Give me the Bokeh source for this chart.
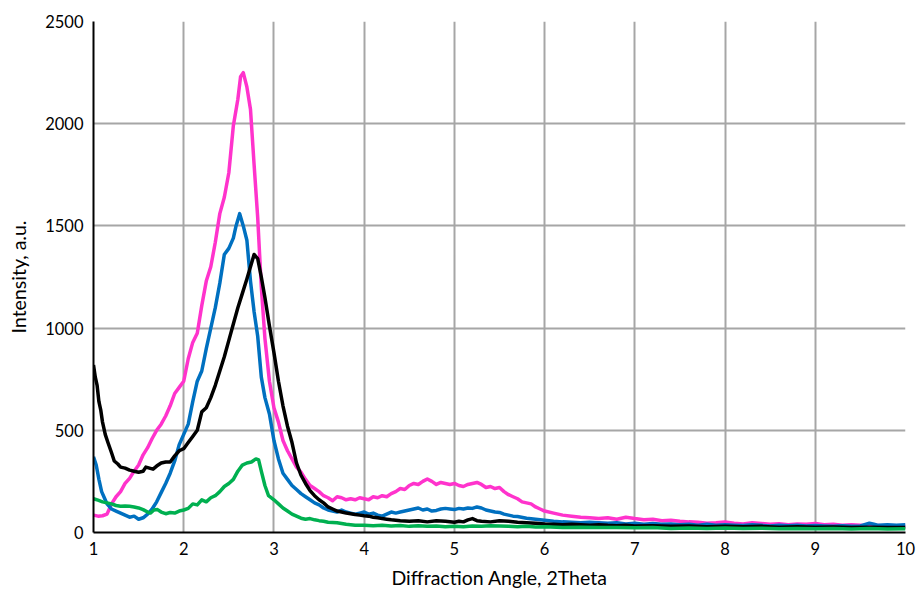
from bokeh.plotting import figure
from bokeh.embed import file_html
from bokeh.resources import INLINE
from bokeh.models import Range1d, FixedTicker

# ---------------- data ----------------
pink_x = [1.00,1.05,1.10,1.15,1.20,1.25,1.30,1.35,1.40,1.45,1.50,1.55,1.60,1.65,1.70,1.75,1.80,1.85,1.90,1.95,
          2.00,2.05,2.10,2.15,2.20,2.25,2.30,2.35,2.40,2.45,2.50,2.55,2.60,2.63,2.66,2.70,2.74,2.78,2.82,2.86,
          2.90,2.95,3.00,3.05,3.10,3.15,3.20,3.25,3.30,3.35,3.40,3.45,3.50,3.55,3.60,3.65,3.70,3.75,3.80,3.85,
          3.90,3.95,4.00,4.05,4.10,4.15,4.20,4.25,4.30,4.35,4.40,4.45,4.50,4.55,4.60,4.65,4.70,4.75,4.80,4.85,
          4.90,4.95,5.00,5.05,5.10,5.15,5.20,5.25,5.30,5.35,5.40,5.45,5.50,5.55,5.60,5.65,5.70,5.75,5.80,5.85,
          5.90,5.95,6.00,6.10,6.20,6.30,6.40,6.50,6.60,6.70,6.80,6.90,7.00,7.10,7.20,7.30,7.40,7.50,7.60,7.70,
          7.80,7.90,8.00,8.10,8.20,8.30,8.40,8.50,8.60,8.70,8.80,8.90,9.00,9.10,9.20,9.30,9.40,9.50,9.60,9.70,
          9.80,9.90,10.00]
pink_y = [85,80,82,90,140,175,200,240,265,300,330,380,415,460,500,530,570,620,680,710,
          740,850,930,975,1110,1230,1300,1420,1560,1640,1760,1990,2120,2230,2250,2180,2070,1800,1540,1200,
          950,740,610,540,450,400,360,320,295,260,230,215,200,180,170,155,175,170,160,165,
          160,170,165,160,175,170,180,175,190,200,215,210,230,240,235,250,262,250,235,245,
          240,235,240,230,225,235,240,245,235,220,225,215,220,200,185,175,165,150,145,140,
          125,115,105,95,85,80,75,72,68,72,65,75,68,62,65,58,60,55,52,50,
          45,48,52,45,42,48,44,40,43,38,42,40,44,38,40,36,38,35,32,34,
          30,28,30]

blue_x = [1.00,1.03,1.06,1.09,1.12,1.15,1.20,1.25,1.30,1.35,1.40,1.45,1.50,1.55,1.60,1.65,1.70,1.75,1.80,1.85,
          1.90,1.95,2.00,2.05,2.10,2.15,2.20,2.25,2.30,2.35,2.40,2.45,2.50,2.55,2.58,2.62,2.66,2.70,2.74,2.78,
          2.82,2.86,2.90,2.95,3.00,3.05,3.10,3.15,3.20,3.25,3.30,3.35,3.40,3.45,3.50,3.55,3.60,3.65,3.70,3.75,
          3.80,3.85,3.90,3.95,4.00,4.05,4.10,4.15,4.20,4.25,4.30,4.35,4.40,4.45,4.50,4.55,4.60,4.65,4.70,4.75,
          4.80,4.85,4.90,4.95,5.00,5.05,5.10,5.15,5.20,5.25,5.30,5.35,5.40,5.45,5.50,5.55,5.60,5.65,5.70,5.80,
          5.90,6.00,6.10,6.20,6.30,6.40,6.50,6.60,6.70,6.80,6.90,7.00,7.10,7.20,7.30,7.40,7.50,7.60,7.70,7.80,
          7.90,8.00,8.10,8.20,8.30,8.40,8.50,8.60,8.70,8.80,8.90,9.00,9.10,9.20,9.30,9.40,9.50,9.60,9.65,9.70,
          9.80,9.90,10.00]
blue_y = [370,330,260,200,170,140,115,105,95,85,75,80,65,72,90,115,150,195,240,290,
          350,430,480,530,640,740,790,900,1000,1100,1220,1360,1390,1440,1500,1560,1500,1430,1230,1080,
          960,760,660,580,450,360,290,260,230,210,190,175,160,145,135,120,110,105,100,110,
          100,95,90,95,100,90,95,85,80,90,100,95,100,105,110,115,120,110,115,105,
          108,115,118,115,112,118,115,120,118,125,120,110,105,100,98,90,85,80,78,70,
          65,60,55,52,50,48,50,48,45,48,42,45,40,44,40,42,38,40,36,40,
          35,38,36,34,38,35,32,36,33,35,32,34,32,30,33,30,32,45,40,35,
          38,35,38]

black_x = [1.00,1.02,1.04,1.06,1.08,1.10,1.13,1.16,1.20,1.23,1.27,1.30,1.35,1.40,1.45,1.50,1.55,1.58,1.62,1.66,
           1.70,1.75,1.80,1.85,1.90,1.95,2.00,2.05,2.10,2.15,2.20,2.25,2.30,2.35,2.40,2.45,2.50,2.55,2.60,2.65,
           2.70,2.74,2.78,2.82,2.86,2.90,2.95,3.00,3.05,3.10,3.15,3.20,3.25,3.30,3.35,3.40,3.45,3.50,3.55,3.60,
           3.65,3.70,3.75,3.80,3.85,3.90,3.95,4.00,4.05,4.10,4.15,4.20,4.25,4.30,4.35,4.40,4.50,4.60,4.70,4.80,
           4.90,5.00,5.05,5.10,5.15,5.20,5.25,5.30,5.40,5.50,5.60,5.70,5.80,5.90,6.00,6.10,6.20,6.30,6.40,6.50,
           6.60,6.70,6.80,6.90,7.00,7.20,7.40,7.60,7.80,8.00,8.20,8.40,8.60,8.80,9.00,9.20,9.40,9.60,9.80,10.00]
black_y = [820,760,720,640,600,540,480,440,390,350,335,320,315,305,300,295,300,320,315,310,
           325,340,345,345,375,400,410,440,470,500,590,610,660,720,790,860,940,1020,1100,1170,
           1240,1300,1360,1340,1250,1150,1010,880,740,620,520,440,340,280,240,205,180,160,145,125,
           115,105,100,95,92,88,85,82,80,75,72,68,65,62,60,58,55,58,52,58,
           55,50,55,52,62,68,58,55,52,58,55,50,48,45,42,40,38,40,38,36,
           38,35,33,35,32,33,30,32,28,30,28,30,26,28,26,27,25,26,24,25]

green_x = [1.00,1.05,1.10,1.15,1.20,1.25,1.30,1.35,1.40,1.45,1.50,1.55,1.60,1.63,1.67,1.71,1.75,1.80,1.85,1.90,
           1.95,2.00,2.05,2.10,2.15,2.20,2.25,2.30,2.35,2.40,2.45,2.50,2.55,2.60,2.65,2.70,2.75,2.80,2.83,2.86,
           2.90,2.94,3.00,3.05,3.10,3.15,3.20,3.25,3.30,3.35,3.40,3.45,3.50,3.55,3.60,3.70,3.80,3.90,4.00,4.10,
           4.20,4.30,4.40,4.50,4.60,4.70,4.80,4.90,5.00,5.10,5.20,5.30,5.40,5.50,5.60,5.70,5.80,5.90,6.00,6.20,
           6.40,6.60,6.80,7.00,7.20,7.40,7.60,7.80,8.00,8.20,8.40,8.60,8.80,9.00,9.20,9.40,9.60,9.80,10.00]
green_y = [165,158,150,145,140,132,128,130,128,125,120,112,100,95,110,112,100,92,98,95,
           105,110,118,140,135,160,150,170,180,200,225,240,260,300,330,340,345,360,355,300,
           230,180,160,140,120,105,90,80,70,65,68,62,58,55,50,48,40,36,35,33,
           35,32,34,30,33,30,32,28,30,28,32,30,33,32,30,28,30,27,28,25,
           26,24,25,23,24,20,22,20,22,19,21,18,20,18,20,17,19,17,18]

x_ticks = [1, 2, 3, 4, 5, 6, 7, 8, 9, 10]
y_ticks = [0, 500, 1000, 1500, 2000, 2500]

FONT = "Lato"

p = figure(width=917, height=593, output_backend="svg", toolbar_location=None,
           x_range=Range1d(1, 10), y_range=Range1d(0, 2500),
           min_border_left=93, min_border_right=12, min_border_top=21, min_border_bottom=61)
p.outline_line_color = None
p.background_fill_color = "white"
p.border_fill_color = "white"

for xs, ys, c in [(pink_x, pink_y, "#FF33CC"), (blue_x, blue_y, "#0070C0"),
                  (black_x, black_y, "#000000"), (green_x, green_y, "#00B050")]:
    p.line(xs, ys, line_color=c, line_width=3.5, line_join="round")

for ax in (p.xaxis[0], p.yaxis[0]):
    ax.axis_line_color = "black"
    ax.axis_line_width = 2
    ax.major_tick_line_color = None
    ax.minor_tick_line_color = None
    ax.major_tick_out = 0
    ax.major_tick_in = 0
    ax.minor_tick_out = 0
    ax.minor_tick_in = 0
    ax.major_label_text_font = FONT
    ax.major_label_text_font_size = "16.5px"
    ax.major_label_text_color = "#000000"
    ax.axis_label_text_font = FONT
    ax.axis_label_text_font_size = "19.5px"
    ax.axis_label_text_font_style = "normal"
    ax.axis_label_text_color = "#000000"

p.xaxis[0].ticker = FixedTicker(ticks=x_ticks)
p.yaxis[0].ticker = FixedTicker(ticks=y_ticks)
p.xaxis[0].axis_label = "Diffraction Angle, 2Theta"
p.yaxis[0].axis_label = "Intensity, a.u."
p.xaxis[0].major_label_standoff = 9
p.yaxis[0].major_label_standoff = 10
p.xaxis[0].axis_label_standoff = 8
p.yaxis[0].axis_label_standoff = 12

p.xgrid.ticker = FixedTicker(ticks=x_ticks)
p.ygrid.ticker = FixedTicker(ticks=y_ticks)
p.grid.grid_line_color = "#A6A6A6"
p.grid.grid_line_width = 2

open("out.html", "w").write(file_html(p, INLINE))
